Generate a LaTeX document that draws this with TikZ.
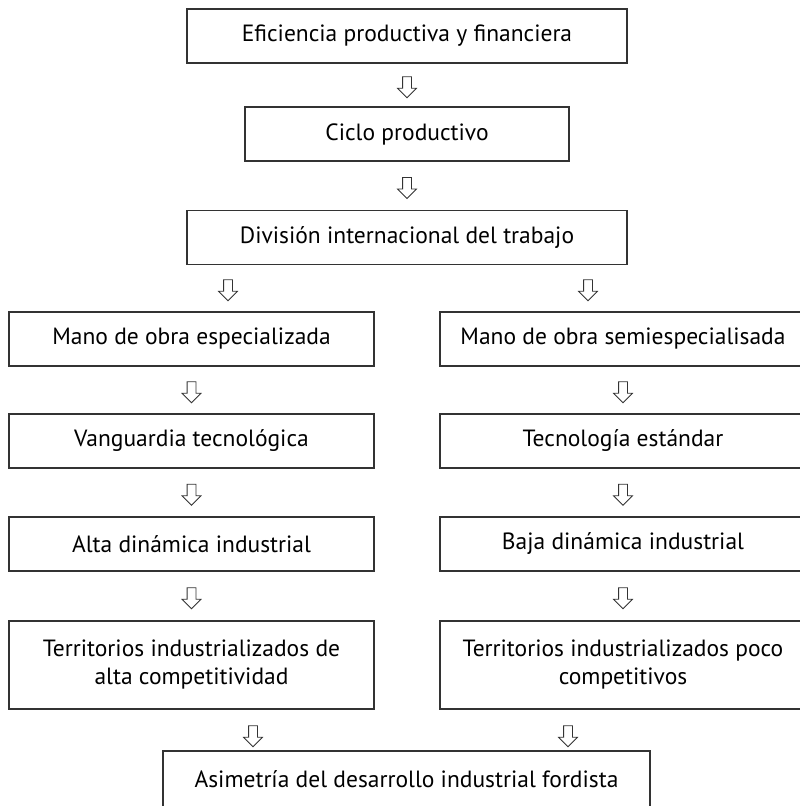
\documentclass[tikz,border=0pt]{standalone}
\usepackage{fontspec}
\setmainfont{PT Sans}
\usetikzlibrary{shapes.arrows,calc}
\definecolor{edge}{HTML}{333333}
\begin{document}
\begin{tikzpicture}[x=1pt,y=-1pt,
  box/.style={draw=edge,line width=1.1pt,rectangle,inner sep=0pt,
    minimum height=54pt,align=center,font=\fontsize{23.5}{28}\selectfont},
  wide/.style={box,minimum width=440pt},
  col/.style={box,minimum width=365pt},
  downarr/.style={draw=edge,line width=0.8pt,single arrow,rotate=-90,
    inner sep=0pt,minimum height=21pt,
    single arrow head extend=5pt,single arrow head indent=0pt}]
\useasboundingbox (0,0) rectangle (800,806);
\begin{scope}
\clip (0,0) rectangle (800,806);
% top chain
\node[wide] (b1) at (407,36) {Eficiencia productiva y financiera};
\node[box,minimum width=324pt] (b2) at (407,134) {Ciclo productivo};
\node[wide] (b3) at (407,237.5) {División internacional del trabajo};
% left column
\node[col] (l1) at (191.5,339) {Mano de obra especializada};
\node[col] (l2) at (191.5,441) {Vanguardia tecnológica};
\node[col] (l3) at (191.5,544) {Alta dinámica industrial};
\node[col,minimum height=88pt] (l4) at (191.5,665) {Territorios industrializados de\\alta competitividad};
% right column
\node[col,minimum width=366pt] (r1) at (623,339) {Mano de obra semiespecialisada};
\node[col,minimum width=366pt] (r2) at (623,441) {Tecnología estándar};
\node[col,minimum width=366pt] (r3) at (623,544) {Baja dinámica industrial};
\node[col,minimum width=366pt,minimum height=88pt] (r4) at (623,665) {Territorios industrializados poco\\competitivos};
% result
\node[box,minimum width=487pt,minimum height=58pt] (fin) at (406.5,780) {\raisebox{2pt}{Asimetría del desarrollo industrial fordista}};
\end{scope}
% arrows between levels
\node[downarr] (a1) at ($(b1.south)!0.5!(b2.north)$) {\rule{0pt}{8pt}};
\node[downarr] (a2) at ($(b2.south)!0.5!(b3.north)$) {\rule{0pt}{8pt}};
\node[downarr] (a3l) at (228,288) {\rule{0pt}{8pt}};
\node[downarr] (a3r) at (588,288) {\rule{0pt}{8pt}};
\node[downarr] (al1) at ($(l1.south)!0.5!(l2.north)$) {\rule{0pt}{8pt}};
\node[downarr] (al2) at ($(l2.south)!0.5!(l3.north)$) {\rule{0pt}{8pt}};
\node[downarr] (al3) at ($(l3.south)!0.5!(l4.north)$) {\rule{0pt}{8pt}};
\node[downarr] (ar1) at ($(r1.south)!0.5!(r2.north)$) {\rule{0pt}{8pt}};
\node[downarr] (ar2) at ($(r2.south)!0.5!(r3.north)$) {\rule{0pt}{8pt}};
\node[downarr] (ar3) at ($(r3.south)!0.5!(r4.north)$) {\rule{0pt}{8pt}};
\node[downarr] (a4l) at (253,734) {\rule{0pt}{8pt}};
\node[downarr] (a4r) at (568,734) {\rule{0pt}{8pt}};
\end{tikzpicture}
\end{document}
